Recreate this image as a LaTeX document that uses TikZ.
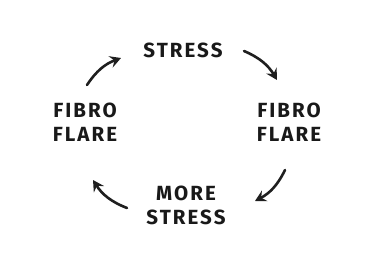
\documentclass[tikz,border=0pt]{standalone}
\usepackage{fontspec}
\setmainfont{Fira Sans}
\usetikzlibrary{arrows.meta}
\begin{document}
\begin{tikzpicture}[x=1pt,y=1pt,
  lbl/.style={font=\fontsize{20.5}{24}\selectfont\bfseries\addfontfeature{LetterSpace=10}, align=center, inner sep=0pt, text=black!90},
  arr/.style={line width=2.6pt, line cap=round, black!88, -{Stealth[length=11pt,width=12pt,inset=4pt]}, bend left=18}]
\useasboundingbox (0,0) rectangle (382,276);
\fill[white] (0,0) rectangle (382,276);
\node[lbl] (top) at (183,226) {STRESS};
\node[lbl] (right) at (289,154) {FIBRO\\FLARE};
\node[lbl] (bottom) at (186,71) {MORE\\STRESS};
\node[lbl] (left) at (85,154) {FIBRO\\FLARE};
\coordinate (a1) at (244,225);
\coordinate (a2) at (277,196);
\coordinate (b1) at (285,106);
\coordinate (b2) at (255,75);
\coordinate (c1) at (127,68);
\coordinate (c2) at (93,96);
\coordinate (d1) at (87,191);
\coordinate (d2) at (121,218);
\draw[arr] (a1) to (a2);
\draw[arr] (b1) to (b2);
\draw[arr] (c1) to (c2);
\draw[arr] (d1) to (d2);
\end{tikzpicture}
\end{document}
